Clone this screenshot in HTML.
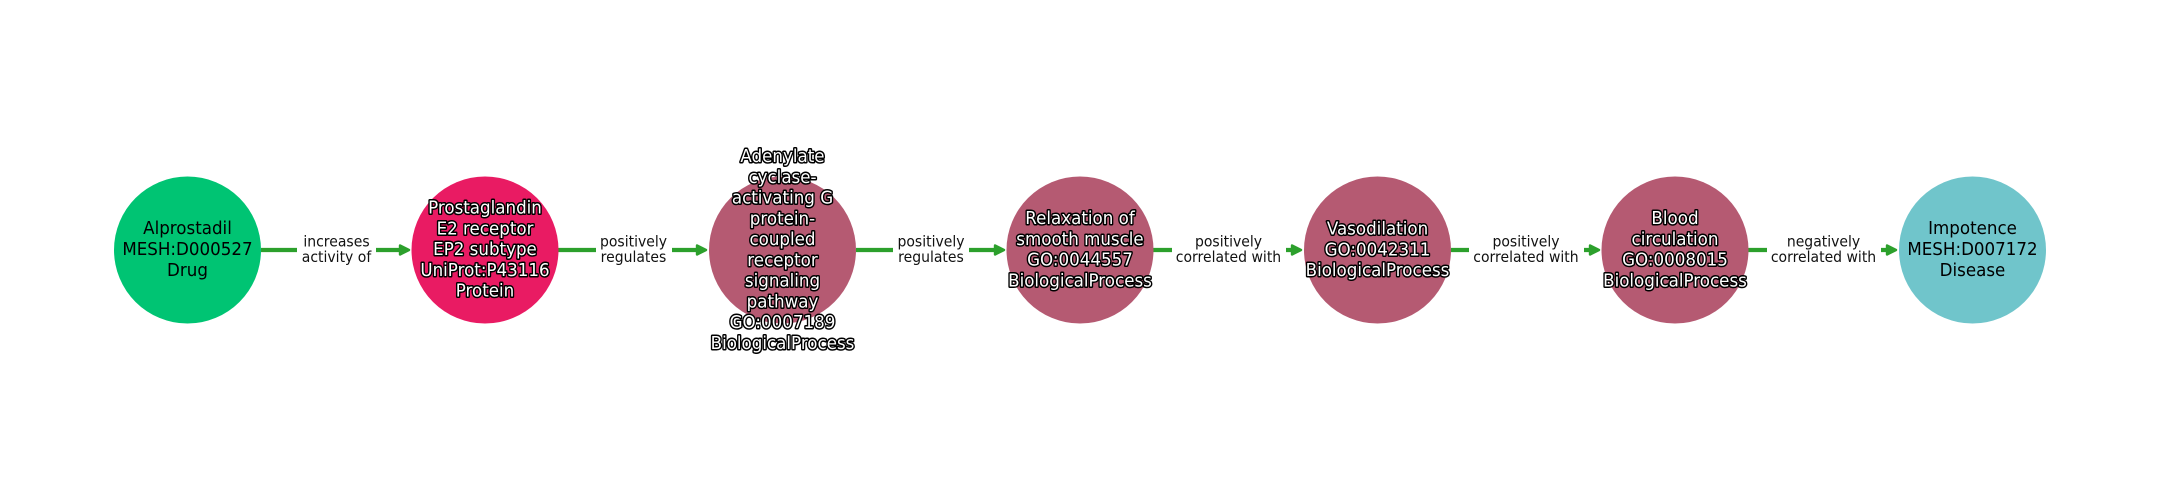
<!DOCTYPE html>
<html>
<head>
<meta charset="utf-8">
<style>
html,body{margin:0;padding:0;background:#fff}
svg{display:block}
text{font-family:"DejaVu Sans",sans-serif;text-anchor:middle;transform-box:fill-box;transform-origin:center}
.n{font-size:17.8px;fill:#000;transform:scaleX(.938)}
.w{font-size:17.8px;fill:#fff;stroke:#000;stroke-width:3px;paint-order:stroke;stroke-linejoin:round;transform:scaleX(.938)}
.e{font-size:15px;fill:#111;transform:scaleX(.933)}
.l{stroke:#2ca02c;stroke-width:4.2;fill:none}
.h{fill:#2ca02c;stroke:#2ca02c;stroke-width:2.4;stroke-linejoin:round}
</style>
</head>
<body>
<svg width="2160" height="500" viewBox="0 0 2160 500" xmlns="http://www.w3.org/2000/svg">
<rect width="2160" height="500" fill="#fff"/>

<!-- edges -->
<path class="l" d="M261 250H297M376 250H402"/><path class="h" d="M400 245.5L409 250L400 254.5Z"/>
<path class="l" d="M558 250H596M672 250H700"/><path class="h" d="M697 245.5L706 250L697 254.5Z"/>
<path class="l" d="M856 250H893M969 250H997"/><path class="h" d="M995 245.5L1004 250L995 254.5Z"/>
<path class="l" d="M1153 250H1172M1286 250H1295"/><path class="h" d="M1292 245.5L1301 250L1292 254.5Z"/>
<path class="l" d="M1451 250H1469M1584 250H1592"/><path class="h" d="M1590 245.5L1599 250L1590 254.5Z"/>
<path class="l" d="M1748 250H1767M1881 250H1890"/><path class="h" d="M1887 245.5L1896 250L1887 254.5Z"/>

<!-- nodes -->
<circle cx="187.5" cy="250" r="73.5" fill="#00c473"/>
<circle cx="485" cy="250" r="73.5" fill="#e91b63"/>
<circle cx="782.5" cy="250" r="73.5" fill="#b55a72"/>
<circle cx="1080" cy="250" r="73.5" fill="#b55a72"/>
<circle cx="1377.5" cy="250" r="73.5" fill="#b55a72"/>
<circle cx="1675" cy="250" r="73.5" fill="#b55a72"/>
<circle cx="1972.5" cy="250" r="73.5" fill="#70c5cb"/>

<!-- edge labels -->
<text class="e" x="336.5" y="246.3">increases</text><text class="e" x="336.5" y="262">activity of</text>
<text class="e" x="633.5" y="246.3">positively</text><text class="e" x="633.5" y="262">regulates</text>
<text class="e" x="931" y="246.3">positively</text><text class="e" x="931" y="262">regulates</text>
<text class="e" x="1228.5" y="246.3">positively</text><text class="e" x="1228.5" y="262">correlated with</text>
<text class="e" x="1526" y="246.3">positively</text><text class="e" x="1526" y="262">correlated with</text>
<text class="e" x="1823.5" y="246.3">negatively</text><text class="e" x="1823.5" y="262">correlated with</text>

<!-- node labels -->
<text class="n" x="187.5" y="234">Alprostadil</text>
<text class="n" x="187.5" y="255">MESH:D000527</text>
<text class="n" x="187.5" y="276">Drug</text>

<text class="w" x="485" y="213.5">Prostaglandin</text>
<text class="w" x="485" y="234.3">E2 receptor</text>
<text class="w" x="485" y="255">EP2 subtype</text>
<text class="w" x="485" y="275.8">UniProt:P43116</text>
<text class="w" x="485" y="296.5">Protein</text>

<text class="w" x="782.5" y="162">Adenylate</text>
<text class="w" x="782.5" y="182.8">cyclase-</text>
<text class="w" x="782.5" y="203.5">activating G</text>
<text class="w" x="782.5" y="224.3">protein-</text>
<text class="w" x="782.5" y="245">coupled</text>
<text class="w" x="782.5" y="265.8">receptor</text>
<text class="w" x="782.5" y="286.5">signaling</text>
<text class="w" x="782.5" y="307.3">pathway</text>
<text class="w" x="782.5" y="328">GO:0007189</text>
<text class="w" x="782.5" y="348.8">BiologicalProcess</text>

<text class="w" x="1080" y="224">Relaxation of</text>
<text class="w" x="1080" y="244.8">smooth muscle</text>
<text class="w" x="1080" y="265.5">GO:0044557</text>
<text class="w" x="1080" y="286.3">BiologicalProcess</text>

<text class="w" x="1377.5" y="234.5">Vasodilation</text>
<text class="w" x="1377.5" y="255.3">GO:0042311</text>
<text class="w" x="1377.5" y="276">BiologicalProcess</text>

<text class="w" x="1675" y="224">Blood</text>
<text class="w" x="1675" y="244.8">circulation</text>
<text class="w" x="1675" y="265.5">GO:0008015</text>
<text class="w" x="1675" y="286.3">BiologicalProcess</text>

<text class="n" x="1972.5" y="234">Impotence</text>
<text class="n" x="1972.5" y="255">MESH:D007172</text>
<text class="n" x="1972.5" y="276">Disease</text>
</svg>
</body>
</html>
